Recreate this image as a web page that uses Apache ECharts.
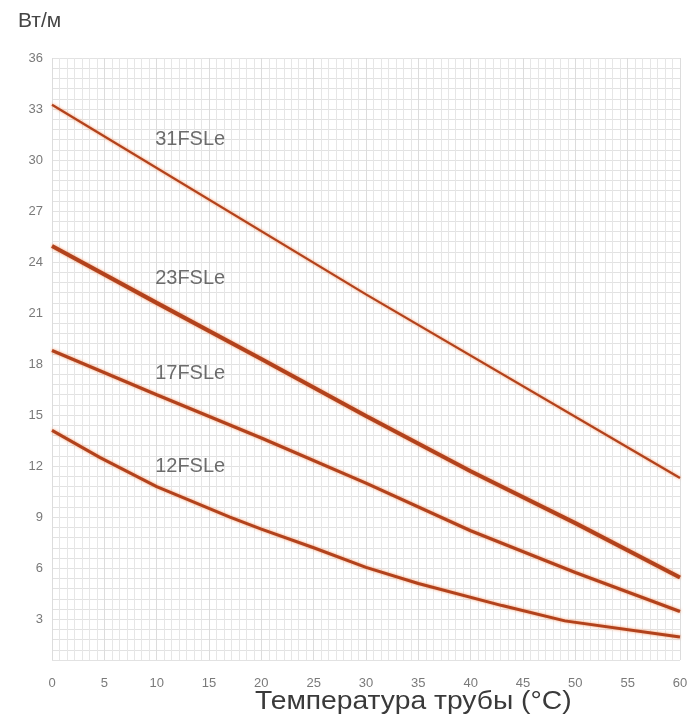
<!DOCTYPE html>
<html>
<head>
<meta charset="utf-8">
<script src="https://cdn.jsdelivr.net/npm/echarts@6/dist/echarts.min.js"></script>
<style>html,body{margin:0;padding:0;background:#fff}#c{width:700px;height:724px}</style>
</head>
<body>
<div id="c"></div>
<script>
var seriesNames = ['31FSLe', '23FSLe', '17FSLe', '12FSLe'];
var x31 = [0, 30, 60];
var y31 = [33.25, 22.1, 11.3];
var x23 = [0, 10, 20, 30, 40, 50, 60];
var y23 = [24.95, 21.6, 18.3, 14.95, 11.7, 8.65, 5.45];
var x17 = [0, 10, 20, 30, 40, 50, 60];
var y17 = [18.8, 16.2, 13.65, 11.0, 8.2, 5.75, 3.45];
var x12 = [0, 4.6, 10, 17, 20, 25, 30, 35, 43, 49, 60];
var y12 = [14.1, 12.5, 10.8, 9.0, 8.3, 7.2, 6.05, 5.1, 3.8, 2.9, 1.95];
var labelX = [13.2, 13.2, 13.2, 13.2];
var labelY = [31.2, 23.05, 17.45, 12.0];
var xTickLabels = ['0','5','10','15','20','25','30','35','40','45','50','55','60'];
var yTickLabels = ['3','6','9','12','15','18','21','24','27','30','33','36'];
var xName = 'Температура трубы (°C)';
var yName = 'Вт/м';

function pairs(xs, ys) { return xs.map(function (x, i) { return [x, ys[i]]; }); }
var lineX = [x31, x23, x17, x12];
var lineY = [y31, y23, y17, y12];
var widths = [2.2, 4, 3.2, 3];

var chart = echarts.init(document.getElementById('c'));
var series = seriesNames.map(function (n, i) {
  return {
    name: n, type: 'line', data: pairs(lineX[i], lineY[i]),
    showSymbol: false, symbol: 'none', smooth: false,
    lineStyle: { color: '#b2421c', width: widths[i], shadowColor: 'rgba(245,130,70,0.8)', shadowBlur: 3 },
    z: 3
  };
});
series.push({
  type: 'scatter', symbolSize: 1, itemStyle: { color: 'rgba(0,0,0,0)' },
  data: seriesNames.map(function (n, i) { return [labelX[i], labelY[i], n]; }),
  label: { show: true, position: 'inside', formatter: function (p) { return p.value[2]; },
    color: '#484848', fontSize: 20, fontFamily: 'Liberation Sans, Arial, sans-serif' },
  z: 5, silent: true
});

chart.setOption({
  animation: false,
  backgroundColor: '#fff',
  grid: { left: 52, right: 20, top: 58, bottom: 64 },
  xAxis: {
    type: 'value', min: 0, max: 60, interval: 5,
    axisLine: { show: false }, axisTick: { show: false },
    axisLabel: { color: '#7a7a7a', fontSize: 13, margin: 17, fontFamily: 'Liberation Sans, Arial, sans-serif',
      formatter: function (v) { return xTickLabels[Math.round(v / 5)]; } },
    splitLine: { show: true, lineStyle: { color: '#dcdcdc', width: 1 } },
    minorTick: { show: false, splitNumber: 7 },
    minorSplitLine: { show: true, lineStyle: { color: '#e6e6e6', width: 1 } }
  },
  yAxis: {
    type: 'value', min: 0.6, max: 36, interval: 0.6,
    axisLine: { show: false }, axisTick: { show: false },
    axisLabel: { color: '#7a7a7a', fontSize: 13, margin: 9, fontFamily: 'Liberation Sans, Arial, sans-serif',
      formatter: function (v) {
        var k = v / 3;
        if (Math.abs(k - Math.round(k)) < 1e-6 && Math.round(k) >= 1) return yTickLabels[Math.round(k) - 1];
        return '';
      } },
    splitLine: { show: true, lineStyle: { color: '#e2e2e2', width: 1 } }
  },
  graphic: [
    { type: 'text', x: 18, y: 11, style: { text: yName, fill: '#454545', fontSize: 21, fontFamily: 'Liberation Sans, Arial, sans-serif' } },
    { type: 'text', x: 255, y: 690, scaleX: 1.13, style: { text: xName, fill: '#3a3a3a', fontSize: 25, fontFamily: 'Liberation Sans, Arial, sans-serif' } }
  ],
  series: series
});
</script>
</body>
</html>
